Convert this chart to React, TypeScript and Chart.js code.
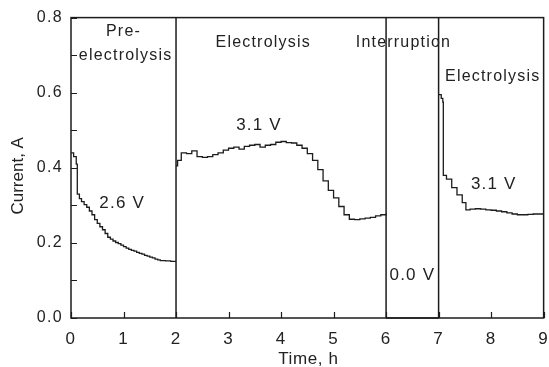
import React, { useEffect, useRef } from 'react';
import { Chart, registerables } from 'chart.js';

Chart.register(...registerables);

// ---- data ----
const preTimes = [0, 0.05, 0.1, 0.12, 0.16, 0.2, 0.25, 0.3, 0.35, 0.4, 0.45, 0.5, 0.55, 0.6, 0.65, 0.7, 0.75, 0.8, 0.85, 0.9, 0.95, 1.0, 1.05, 1.1, 1.15, 1.2, 1.25, 1.3, 1.35, 1.4, 1.45, 1.5, 1.55, 1.6, 1.65, 1.7, 1.8, 1.9, 2.0];
const preCurrent = [0.44, 0.43, 0.41, 0.33, 0.318, 0.31, 0.302, 0.295, 0.285, 0.275, 0.262, 0.252, 0.243, 0.235, 0.225, 0.215, 0.21, 0.205, 0.201, 0.198, 0.194, 0.19, 0.186, 0.183, 0.18, 0.178, 0.175, 0.172, 0.17, 0.167, 0.165, 0.162, 0.16, 0.157, 0.155, 0.153, 0.152, 0.151, 0.151];

const elec1Times = [2.0, 2.03, 2.1, 2.2, 2.3, 2.4, 2.5, 2.6, 2.7, 2.8, 2.9, 3.0, 3.1, 3.2, 3.3, 3.4, 3.5, 3.6, 3.7, 3.8, 3.9, 4.0, 4.1, 4.2, 4.3, 4.4, 4.5, 4.6, 4.7, 4.8, 4.9, 5.0, 5.1, 5.2, 5.3, 5.4, 5.5, 5.6, 5.7, 5.8, 5.9, 6.0];
const elec1Current = [0.405, 0.42, 0.44, 0.438, 0.445, 0.43, 0.428, 0.43, 0.435, 0.44, 0.447, 0.452, 0.455, 0.45, 0.457, 0.46, 0.462, 0.455, 0.46, 0.462, 0.468, 0.47, 0.467, 0.466, 0.46, 0.452, 0.438, 0.42, 0.395, 0.365, 0.34, 0.32, 0.297, 0.275, 0.263, 0.262, 0.264, 0.266, 0.268, 0.272, 0.275, 0.278];

const interTimes = [6.0, 7.0];
const interCurrent = [0, 0];

const elec2Times = [7.0, 7.05, 7.08, 7.09, 7.15, 7.25, 7.35, 7.45, 7.52, 7.6, 7.7, 7.8, 7.9, 8.0, 8.1, 8.2, 8.3, 8.4, 8.5, 8.6, 8.7, 8.8, 8.9, 9.0];
const elec2Current = [0.595, 0.585, 0.575, 0.38, 0.37, 0.347, 0.328, 0.307, 0.288, 0.29, 0.291, 0.29, 0.288, 0.287, 0.285, 0.283, 0.28, 0.277, 0.275, 0.275, 0.276, 0.277, 0.277, 0.277];

const separators = [2, 6, 7];

const xTicks = [0, 1, 2, 3, 4, 5, 6, 7, 8, 9];
const yMajorTicks = [0, 0.2, 0.4, 0.6, 0.8];
const yMinorTicks = [0.1, 0.3, 0.5, 0.7];

const xTitle = 'Time, h';
const yTitle = 'Current, A';

const phaseLabels = [
  { text: 'Pre-', x: 1.0, y: 0.762 },
  { text: 'electrolysis', x: 1.04, y: 0.7 },
  { text: 'Electrolysis', x: 3.66, y: 0.733 },
  { text: 'Interruption', x: 6.33, y: 0.733 },
  { text: 'Electrolysis', x: 8.03, y: 0.643 },
];
const voltageLabels = [
  { text: '2.6 V', x: 0.975, y: 0.305 },
  { text: '3.1 V', x: 3.58, y: 0.513 },
  { text: '0.0 V', x: 6.5, y: 0.114 },
  { text: '3.1 V', x: 8.05, y: 0.355 },
];

// ---- styles ----
const INK = '#1c1c1c';
const TEXT = '#222222';
const FONT = '"Liberation Sans", Arial, sans-serif';
const SPACING = '1.3px';

const toPoints = (xs: number[], ys: number[]) => xs.map((x, i) => ({ x, y: ys[i] }));

const decor = {
  id: 'decor',
  beforeUpdate(chart: any) {
    chart.ctx.letterSpacing = SPACING;
  },
  beforeDraw(chart: any) {
    chart.ctx.letterSpacing = SPACING;
  },
  afterDraw(chart: any) {
    const { ctx, chartArea } = chart;
    const xs = chart.scales.x;
    const ys = chart.scales.y;
    ctx.save();
    // frame
    ctx.strokeStyle = INK;
    ctx.lineWidth = 1.5;
    ctx.strokeRect(chartArea.left, chartArea.top, chartArea.right - chartArea.left, chartArea.bottom - chartArea.top);
    // inward ticks
    ctx.lineWidth = 1.2;
    ctx.beginPath();
    [...yMajorTicks, ...yMinorTicks].forEach((v) => {
      const py = Math.round(ys.getPixelForValue(v)) + 0.5;
      ctx.moveTo(chartArea.left, py);
      ctx.lineTo(chartArea.left + 6, py);
    });
    xTicks.forEach((v) => {
      const px = Math.round(xs.getPixelForValue(v)) + 0.5;
      ctx.moveTo(px, chartArea.bottom);
      ctx.lineTo(px, chartArea.bottom - 6);
    });
    ctx.stroke();

    // annotations
    ctx.fillStyle = TEXT;
    ctx.textAlign = 'center';
    ctx.textBaseline = 'middle';
    ctx.letterSpacing = '1.2px';
    ctx.font = `16px ${FONT}`;
    phaseLabels.forEach((l) => {
      ctx.fillText(l.text, xs.getPixelForValue(l.x), ys.getPixelForValue(l.y));
    });
    ctx.font = `17px ${FONT}`;
    voltageLabels.forEach((l) => {
      ctx.fillText(l.text, xs.getPixelForValue(l.x), ys.getPixelForValue(l.y));
    });

    // axis titles
    ctx.font = `17px ${FONT}`;
    ctx.letterSpacing = '0.6px';
    ctx.fillText(xTitle, (chartArea.left + chartArea.right) / 2 + 1, 359);
    ctx.save();
    ctx.translate(18.5, (chartArea.top + chartArea.bottom) / 2 + 8);
    ctx.rotate(-Math.PI / 2);
    ctx.letterSpacing = '0px';
    ctx.fillText(yTitle, 0, 0);
    ctx.restore();
    ctx.restore();
  },
};

export default function App() {
  const ref = useRef<HTMLCanvasElement>(null);

  useEffect(() => {
    document.body.style.margin = '0';
    document.body.style.overflow = 'hidden';
    const canvas = ref.current;
    if (!canvas) return;

    const lineDs = (data: any[]) => ({
      data,
      showLine: true,
      stepped: true,
      borderColor: INK,
      borderWidth: 1.3,
      pointRadius: 0,
      fill: false,
      clip: false,
    });

    const sepDs = separators.map((s) => ({
      data: [
        { x: s, y: 0 },
        { x: s, y: 0.8 },
      ],
      showLine: true,
      borderColor: INK,
      borderWidth: 1.5,
      pointRadius: 0,
      fill: false,
      clip: false,
    }));

    const chart = new Chart(canvas, {
      type: 'scatter',
      data: {
        datasets: [
          lineDs(toPoints(preTimes, preCurrent)),
          lineDs(toPoints(elec1Times, elec1Current)),
          lineDs(toPoints(interTimes, interCurrent)),
          lineDs(toPoints(elec2Times, elec2Current)),
          ...sepDs,
        ] as any,
      },
      options: {
        animation: false,
        responsive: false,
        devicePixelRatio: 1,
        layout: { padding: { left: 0, top: 17, right: 14, bottom: 0 } },
        plugins: { legend: { display: false }, tooltip: { enabled: false } },
        scales: {
          x: {
            type: 'linear',
            min: 0,
            max: 9,
            afterBuildTicks: (s: any) => {
              s.ticks = xTicks.map((v) => ({ value: v }));
            },
            afterFit: (s: any) => {
              s.height = 49;
            },
            grid: { display: false, drawTicks: false },
            border: { display: false },
            ticks: {
              autoSkip: false,
              maxRotation: 0,
              padding: 11,
              color: TEXT,
              font: { family: FONT, size: 17 },
              callback: (v: any) => String(v),
            },
          },
          y: {
            type: 'linear',
            min: 0,
            max: 0.8,
            afterBuildTicks: (s: any) => {
              s.ticks = yMajorTicks.map((v) => ({ value: v }));
            },
            afterFit: (s: any) => {
              s.width = 71;
            },
            grid: { display: false, drawTicks: false },
            border: { display: false },
            ticks: {
              autoSkip: false,
              padding: 8,
              color: TEXT,
              font: { family: FONT, size: 16 },
              callback: (v: any) => Number(v).toFixed(1),
            },
          },
        },
      },
      plugins: [decor],
    });

    return () => chart.destroy();
  }, []);

  return (
    <div style={{ width: 549, height: 367, overflow: 'hidden', position: 'relative', background: '#fff' }}>
      <canvas ref={ref} width={560} height={367} style={{ width: 560, height: 367, display: 'block' }} />
    </div>
  );
}
